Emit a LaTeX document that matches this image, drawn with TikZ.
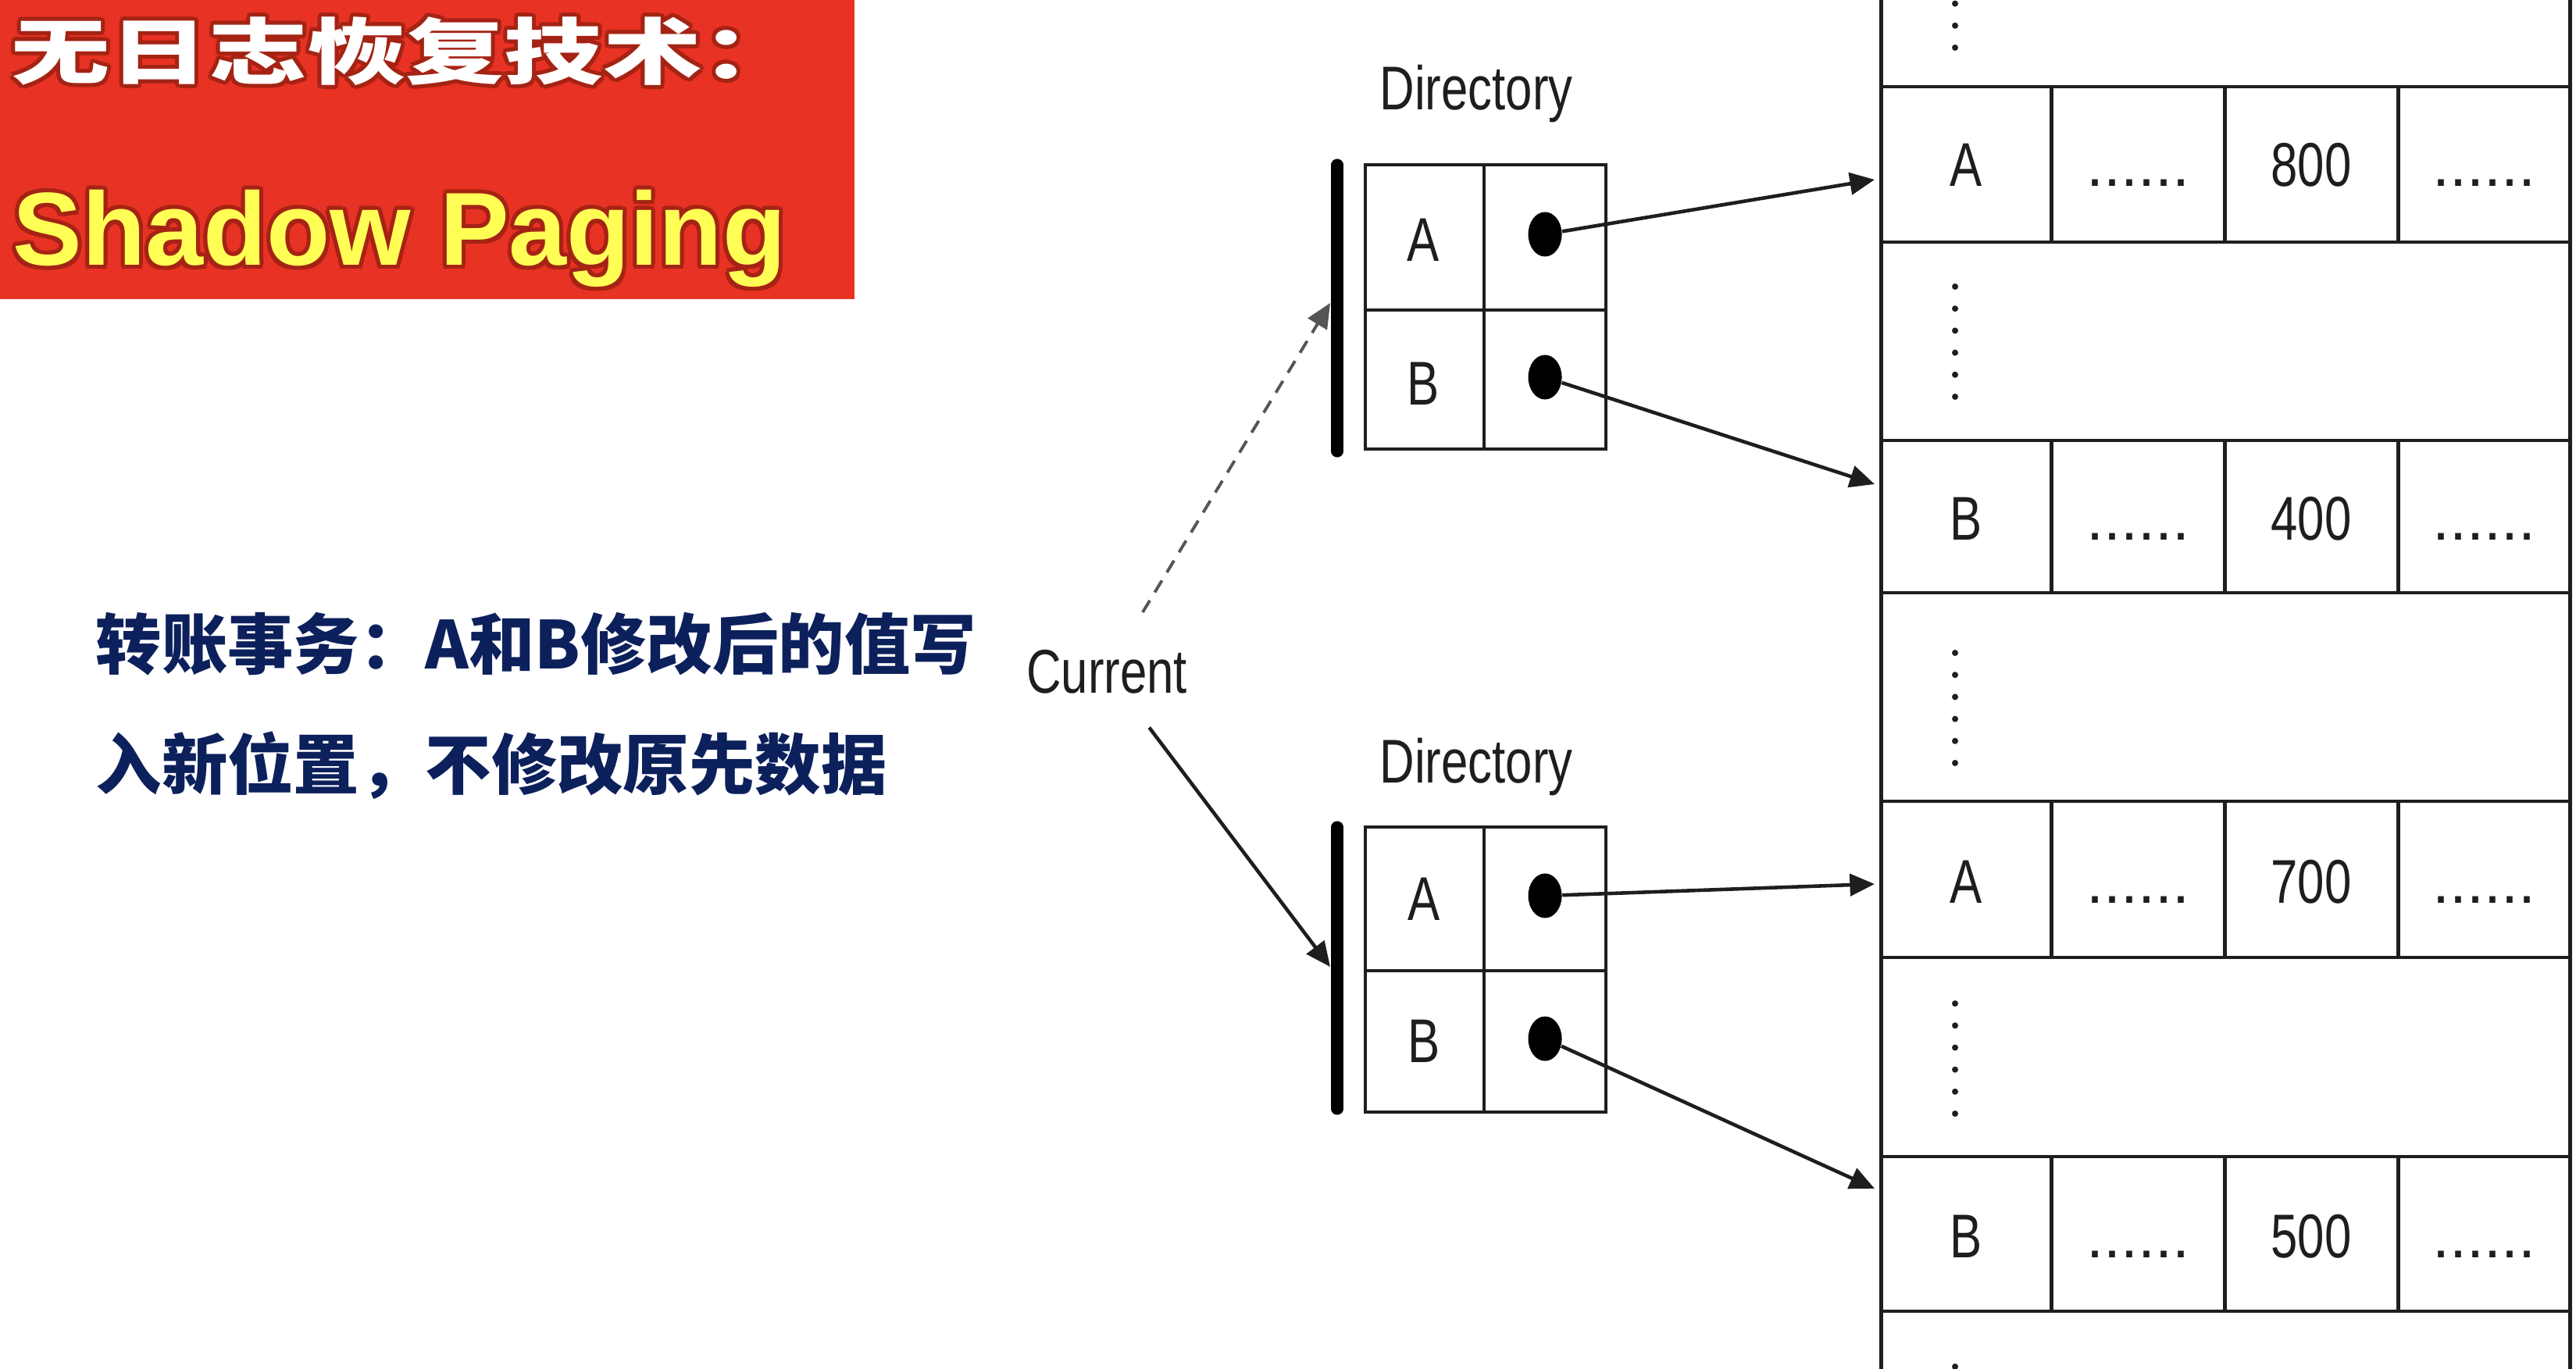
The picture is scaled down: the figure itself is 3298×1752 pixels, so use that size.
\documentclass[tikz,border=0pt]{standalone}
\usepackage{fontspec}
\setmainfont{Liberation Sans}
\newfontfamily\cjkfont{Noto Sans CJK SC}
\usetikzlibrary{arrows.meta,shapes.geometric}

\definecolor{bannerred}{RGB}{232,50,35}
\definecolor{bannerglow}{RGB}{165,35,20}
\definecolor{bannerylw}{RGB}{255,255,85}
\definecolor{notenavy}{RGB}{12,32,92}
\definecolor{ink}{RGB}{30,30,30}
\definecolor{dashgray}{RGB}{85,85,85}

% diagram labels are set in a narrowed Helvetica-like face
\newcommand{\condensed}[1]{\scalebox{0.78}[1]{#1}}

\begin{document}
\begin{tikzpicture}[x=0.01cm,y=-0.01cm,
  lbl/.style={font=\fontsize{22.5}{26}\selectfont, text=ink, inner sep=0pt, anchor=base},
  gridline/.style={draw=ink, line width=1.2pt},
  tabline/.style={draw=ink, line width=1.4pt},
  ptr/.style={draw=ink, line width=1.3pt, -{Triangle[length=9pt,width=8pt]}},
  ptrdash/.style={draw=dashgray, line width=1.1pt, dash pattern=on 5pt off 3.5pt, -{Triangle[length=9pt,width=8pt]}},
  dirbar/.style={draw=black, line width=4.3pt, line cap=round},
  ptrdot/.style={ellipse, fill=black, minimum width=0.43cm, minimum height=0.57cm, inner sep=0pt},
  titlecn/.style={anchor=base west, inner sep=0pt, font=\cjkfont\bfseries\fontsize{26.2}{30}\selectfont},
  titleen/.style={anchor=base west, inner sep=0pt, font=\bfseries\fontsize{37.8}{44}\selectfont},
  notecn/.style={anchor=base west, inner sep=0pt, text=notenavy, font=\cjkfont\bfseries\fontsize{24}{28}\selectfont},
]
\path[use as bounding box] (0,0) rectangle (3298,1752);
\clip (0,0) rectangle (3298,1752);
\fill[white] (0,0) rectangle (3298,1752);

% ---- title banner ----
\fill[bannerred] (0,0) rectangle (1094,383);
% dark red halo behind the banner lettering
\foreach [count=\k] \dx/\dy in {-5/0,5/0,0/-5,0/5,-4/-4,4/4,-4/4,4/-4,-2/-5,2/5,-5/2,5/-2} {
  \node[titlecn, name=tglow\k, shift={(\dx,\dy)}, text=bannerglow] at (14,101) {\scalebox{1.37}[1]{无日志恢复技术：}};
  \node[titleen, name=sglow\k, shift={(\dx,\dy)}, text=bannerglow] at (16,340) {Shadow Paging};
}
\node[titlecn, text=white] (title) at (14,101) {\scalebox{1.37}[1]{无日志恢复技术：}};
\node[titleen, text=bannerylw] (subtitle) at (16,340) {Shadow Paging};

% ---- explanatory note ----
\node[notecn] (note1) at (122,856) {转账事务：A和B修改后的值写};
\node[notecn] (note2) at (122,1010) {入新位置，不修改原先数据};

% ---- directories ----
\draw[gridline] (1748,211) rectangle (2056,575);
\draw[gridline] (1900,211) -- (1900,575);
\draw[gridline] (1748,397) -- (2056,397);
\draw[gridline] (1748,1059) rectangle (2056,1424);
\draw[gridline] (1900,1059) -- (1900,1424);
\draw[gridline] (1748,1243) -- (2056,1243);

\draw[dirbar] (1712,211) -- (1712,578);
\draw[dirbar] (1712,1059) -- (1712,1420);

\node[lbl] (dir1) at (1890,141) {\condensed{Directory}};
\node[lbl] (dir2) at (1890,1002) {\condensed{Directory}};
\node[lbl] (dA1) at (1822,334) {\condensed{A}};
\node[lbl] (dB1) at (1822,518) {\condensed{B}};
\node[lbl] (dA2) at (1823,1178) {\condensed{A}};
\node[lbl] (dB2) at (1823,1360) {\condensed{B}};

\node[ptrdot] (pA1) at (1978,300) {};
\node[ptrdot] (pB1) at (1978,483) {};
\node[ptrdot] (pA2) at (1978,1147) {};
\node[ptrdot] (pB2) at (1978,1330) {};

% ---- current pointer ----
\node[lbl] (cur) at (1417,887) {\condensed{Current}};
\coordinate (bar1) at (1703,388);
\coordinate (bar2) at (1703,1238);
\draw[ptrdash, shorten <=0.55cm] (cur) -- (bar1);
\draw[ptr, shorten <=0.54cm] (cur) -- (bar2);

% ---- data pages ----
\draw[tabline] (2408,-20) -- (2408,1772);
\draw[tabline] (3290,-20) -- (3290,1772);
\foreach \y in {111,310,564,759,1026,1226,1481,1679}
  \draw[tabline] (2408,\y) -- (3290,\y);
\foreach \ya/\yb in {111/310,564/759,1026/1226,1481/1679}
  \foreach \x in {2626,2848,3070}
    \draw[tabline] (\x,\ya) -- (\x,\yb);

\foreach \r/\yb/\k/\v in {1/239/A/800, 2/691/B/400, 3/1156/A/700, 4/1610/B/500} {
  \node[lbl, name=key\r] at (2517,\yb) {\condensed{\k}};
  \node[lbl, name=gapl\r] at (2737,\yb) {......};
  \node[lbl, name=val\r] at (2959,\yb) {\condensed{\v}};
  \node[lbl, name=gapr\r] at (3180,\yb) {......};
}

% skipped pages between records
\foreach \ys in {-80,367,836,1285,1750}
  \foreach \i in {0,...,5}
    \fill[ink] (2503,{\ys+\i*28.2}) circle (4);

\coordinate (hA1) at (2400,230);
\coordinate (hB1) at (2400,620);
\coordinate (hA2) at (2400,1132);
\coordinate (hB2) at (2400,1522);
\draw[ptr] (pA1) -- (hA1);
\draw[ptr] (pB1) -- (hB1);
\draw[ptr] (pA2) -- (hA2);
\draw[ptr] (pB2) -- (hB2);
\end{tikzpicture}
\end{document}
